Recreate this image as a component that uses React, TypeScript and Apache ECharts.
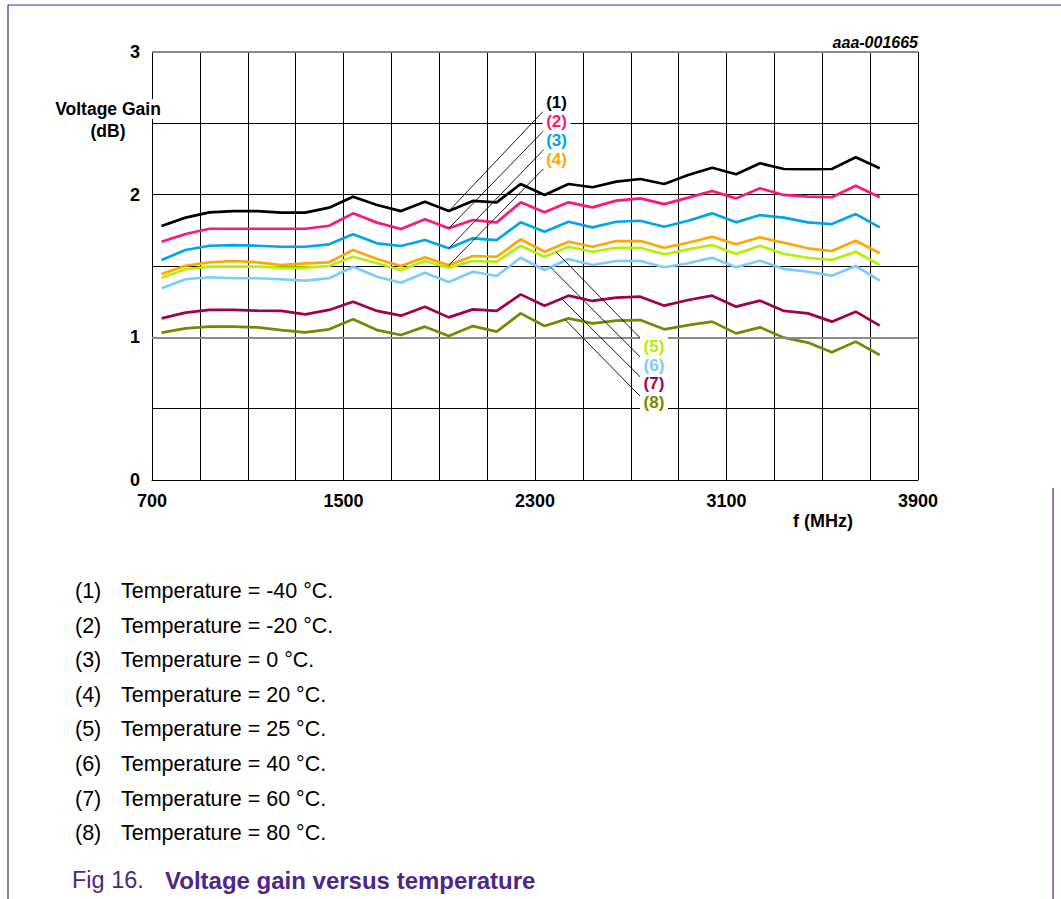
import React, { useEffect, useRef } from "react";
import * as echarts from "echarts";

// Frequency sweep points (MHz)
const FREQ_MHZ = [
  740, 840, 940, 1040, 1140, 1240, 1340, 1440, 1540, 1640, 1740, 1840, 1940, 2040, 2140, 2240,
  2340, 2440, 2540, 2640, 2740, 2840, 2940, 3040, 3140, 3240, 3340, 3440, 3540, 3640, 3740,
];

// Voltage gain (dB) per temperature
const GAIN_M40 = [
  1.78, 1.839, 1.876, 1.885, 1.885, 1.874, 1.874, 1.909, 1.986, 1.928, 1.885, 1.951, 1.885,
  1.956, 1.946, 2.075, 1.998, 2.075, 2.052, 2.091, 2.11, 2.075, 2.138,
  2.189, 2.143, 2.22, 2.18, 2.178, 2.18, 2.262, 2.185,
];
const GAIN_M20 = [
  1.67, 1.724, 1.761, 1.761, 1.761, 1.761, 1.761, 1.782, 1.869, 1.804, 1.759, 1.827, 1.764,
  1.822, 1.806, 1.946, 1.876, 1.946, 1.911, 1.958, 1.974, 1.934, 1.979,
  2.026, 1.974, 2.045, 1.998, 1.986, 1.982, 2.063, 1.982,
];
const GAIN_0 = [
  1.542, 1.612, 1.642, 1.647, 1.642, 1.635, 1.635, 1.652, 1.722, 1.659, 1.64, 1.682, 1.624,
  1.694, 1.682, 1.806, 1.74, 1.81, 1.771, 1.81, 1.817, 1.775, 1.817,
  1.869, 1.806, 1.857, 1.839, 1.806, 1.794, 1.864, 1.771,
];
const GAIN_20 = [
  1.444, 1.502, 1.526, 1.535, 1.526, 1.507, 1.519, 1.526, 1.612, 1.549, 1.5, 1.561, 1.505,
  1.57, 1.565, 1.687, 1.6, 1.67, 1.635, 1.675, 1.675, 1.628, 1.663,
  1.705, 1.652, 1.701, 1.663, 1.624, 1.605, 1.677, 1.589,
];
const GAIN_25 = [
  1.418, 1.477, 1.495, 1.495, 1.495, 1.488, 1.488, 1.5, 1.565, 1.519, 1.472, 1.535, 1.488,
  1.535, 1.53, 1.642, 1.565, 1.635, 1.6, 1.628, 1.628, 1.582, 1.617,
  1.647, 1.584, 1.642, 1.584, 1.558, 1.542, 1.6, 1.507,
];
const GAIN_40 = [
  1.344, 1.407, 1.421, 1.414, 1.414, 1.407, 1.397, 1.414, 1.495, 1.425, 1.383, 1.453, 1.388,
  1.46, 1.43, 1.558, 1.472, 1.549, 1.507, 1.535, 1.535, 1.491, 1.519,
  1.558, 1.491, 1.537, 1.479, 1.46, 1.432, 1.5, 1.397,
];
const GAIN_60 = [
  1.133, 1.173, 1.192, 1.192, 1.187, 1.185, 1.161, 1.192, 1.25, 1.185, 1.152, 1.215, 1.14,
  1.196, 1.185, 1.301, 1.222, 1.292, 1.255, 1.278, 1.285, 1.222, 1.262,
  1.292, 1.215, 1.257, 1.185, 1.168, 1.11, 1.18, 1.082,
];
const GAIN_80 = [
  1.033, 1.063, 1.075, 1.075, 1.07, 1.051, 1.035, 1.056, 1.126, 1.051, 1.016, 1.075, 1.009,
  1.079, 1.04, 1.168, 1.079, 1.133, 1.098, 1.117, 1.121, 1.056, 1.086,
  1.11, 1.028, 1.07, 0.998, 0.963, 0.895, 0.97, 0.876,
];

const CURVES = [GAIN_M40, GAIN_M20, GAIN_0, GAIN_20, GAIN_25, GAIN_40, GAIN_60, GAIN_80];
const TAGS = ["(1)", "(2)", "(3)", "(4)", "(5)", "(6)", "(7)", "(8)"];
const TEMPERATURES = ["-40", "-20", "0", "20", "25", "40", "60", "80"];
const COLORS = ["#000000", "#ff1778", "#00a5ec", "#ffa600", "#b4f000", "#78cdff", "#a3004b", "#6e8c00"];

// Leader lines: start frequency on the curve, end point (MHz, dB), tag position (MHz, dB)
const LEADER_FROM = [1940, 1940, 1940, 1940, 2388, 2365, 2411, 2425];
const LEADER_TO = [
  [2342, 2.598], [2342, 2.458], [2342, 2.325], [2342, 2.192],
  [2741, 0.993], [2741, 0.86], [2741, 0.72], [2741, 0.584],
];
const TAG_AT = [
  [2390, 2.643], [2390, 2.511], [2390, 2.378], [2390, 2.243],
  [2797, 0.939], [2797, 0.806], [2797, 0.673], [2797, 0.54],
];

const X_TICK_LABELS = [700, 1500, 2300, 3100, 3900];
const Y_TICK_LABELS = [0, 1, 2, 3];

const FONT = "'Liberation Sans', Arial, Helvetica, sans-serif";
const PURPLE = "#4f2586";

function gainAt(values: number[], f: number): number {
  for (let i = 0; i < FREQ_MHZ.length - 1; i++) {
    const f0 = FREQ_MHZ[i];
    const f1 = FREQ_MHZ[i + 1];
    if (f >= f0 && f <= f1) {
      const t = (f - f0) / (f1 - f0);
      return values[i] + t * (values[i + 1] - values[i]);
    }
  }
  return values[values.length - 1];
}

function buildOption(): any {
  const curveSeries = CURVES.map((vals, i) => ({
    type: "line",
    name: TAGS[i],
    data: FREQ_MHZ.map((f, k) => [f, vals[k]]),
    symbol: "none",
    showSymbol: false,
    smooth: false,
    z: 3,
    lineStyle: { color: COLORS[i], width: 2.7 },
    itemStyle: { color: COLORS[i] },
    markLine: {
      silent: true,
      symbol: ["none", "none"],
      lineStyle: { color: "#000", width: 0.9, type: "solid" },
      label: { show: false },
      data: [
        [
          { coord: [LEADER_FROM[i], gainAt(vals, LEADER_FROM[i])] },
          { coord: LEADER_TO[i] },
        ],
      ],
    },
    markPoint: {
      silent: true,
      symbol: "rect",
      symbolSize: [28, 18],
      itemStyle: { color: "#ffffff" },
      label: {
        show: true,
        position: "inside",
        formatter: TAGS[i],
        color: COLORS[i],
        fontSize: 17,
        fontWeight: "bold",
        fontFamily: FONT,
      },
      data: [{ coord: TAG_AT[i] }],
    },
  }));

  // Heavier grey reference lines at 1 dB and at the top of the plot
  const refSeries = {
    type: "line",
    data: [],
    z: 1,
    markLine: {
      silent: true,
      symbol: ["none", "none"],
      label: { show: false },
      lineStyle: { color: "#8a8a8a", width: 2.2, type: "solid" },
      data: [{ yAxis: 1 }, { yAxis: 3 }],
    },
  };

  const graphic: any[] = [
    // page frame
    { type: "line", shape: { x1: 8, y1: 5, x2: 1061, y2: 5 }, style: { stroke: PURPLE, lineWidth: 1.2 } },
    { type: "line", shape: { x1: 8, y1: 5, x2: 8, y2: 899 }, style: { stroke: PURPLE, lineWidth: 1.2 } },
    { type: "line", shape: { x1: 1053, y1: 488, x2: 1053, y2: 899 }, style: { stroke: PURPLE, lineWidth: 1.2 } },
    {
      type: "text", x: 918, y: 42,
      style: { text: "aaa-001665", fill: "#000", font: `italic bold 16px ${FONT}`, align: "right", verticalAlign: "middle" },
    },
    {
      type: "text", x: 108, y: 109, z: 100,
      style: {
        text: "Voltage Gain", fill: "#000", font: `bold 17.5px ${FONT}`, align: "center", verticalAlign: "middle",
        backgroundColor: "#ffffff", padding: [1, 1],
      },
    },
    {
      type: "text", x: 108, y: 131, z: 100,
      style: { text: "(dB)", fill: "#000", font: `bold 17.5px ${FONT}`, align: "center", verticalAlign: "middle" },
    },
    {
      type: "text", x: 823, y: 521,
      style: { text: "f (MHz)", fill: "#000", font: `bold 18px ${FONT}`, align: "center", verticalAlign: "middle" },
    },
    {
      type: "text", x: 72, y: 880,
      style: { text: "Fig 16.", fill: PURPLE, font: `23.5px ${FONT}`, align: "left", verticalAlign: "middle" },
    },
    {
      type: "text", x: 165, y: 880,
      style: { text: "Voltage gain versus temperature", fill: PURPLE, font: `bold 24px ${FONT}`, align: "left", verticalAlign: "middle" },
    },
  ];

  TEMPERATURES.forEach((t, i) => {
    const y = 591 + i * 34.6;
    graphic.push({
      type: "text", x: 75, y,
      style: { text: TAGS[i], fill: "#000", font: `21.5px ${FONT}`, align: "left", verticalAlign: "middle" },
    });
    graphic.push({
      type: "text", x: 121, y,
      style: { text: `Temperature = ${t} °C.`, fill: "#000", font: `21.5px ${FONT}`, align: "left", verticalAlign: "middle" },
    });
  });

  return {
    animation: false,
    backgroundColor: "#ffffff",
    grid: { left: 152, top: 52, width: 766, height: 428, containLabel: false },
    xAxis: {
      type: "value",
      min: 700,
      max: 3900,
      interval: 200,
      axisLine: { show: true, lineStyle: { color: "#000", width: 1 } },
      axisTick: { show: false },
      axisLabel: {
        margin: 12,
        color: "#000",
        fontSize: 18,
        fontWeight: "bold",
        fontFamily: FONT,
        formatter: (v: number) => (X_TICK_LABELS.includes(v) ? String(v) : ""),
      },
      splitLine: { show: true, lineStyle: { color: "#000", width: 1 } },
    },
    yAxis: {
      type: "value",
      min: 0,
      max: 3,
      interval: 0.5,
      axisLine: { show: true, lineStyle: { color: "#000", width: 1 } },
      axisTick: { show: false },
      axisLabel: {
        margin: 12,
        color: "#000",
        fontSize: 18,
        fontWeight: "bold",
        fontFamily: FONT,
        formatter: (v: number) => (Y_TICK_LABELS.includes(v) ? String(v) : ""),
      },
      splitLine: { show: true, lineStyle: { color: "#000", width: 1 } },
    },
    series: [refSeries, ...curveSeries],
    graphic,
  };
}

export default function App() {
  const ref = useRef<HTMLDivElement | null>(null);

  useEffect(() => {
    if (!ref.current) return;
    const chart = echarts.init(ref.current, null, { renderer: "svg" });
    chart.setOption(buildOption());
    return () => chart.dispose();
  }, []);

  return (
    <div
      ref={ref}
      style={{ position: "absolute", left: 0, top: 0, width: 1061, height: 899, background: "#fff" }}
    />
  );
}
